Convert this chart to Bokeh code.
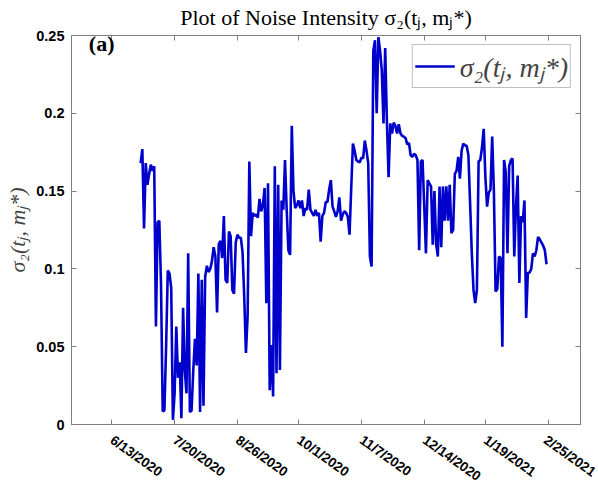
import pandas as pd
from bokeh.plotting import figure
from bokeh.models import Range1d, FixedTicker, LinearAxis, Label, CustomLabelingPolicy
from bokeh.embed import file_html
from bokeh.resources import INLINE

# ---- data (daily noise intensity) ----
start_date = "2020-06-30"
origin_date = "2020-06-13"
sigma2 = [
    0.168, 0.177, 0.126, 0.168, 0.154, 0.161, 0.167, 0.163, 0.166, 0.063,
    0.130, 0.131, 0.090, 0.0085, 0.009, 0.050, 0.099, 0.097, 0.088, 0.003,
    0.020, 0.063, 0.030, 0.040, 0.004, 0.075, 0.035, 0.020, 0.110, 0.008,
    0.009, 0.035, 0.055, 0.038, 0.097, 0.008, 0.093, 0.012, 0.095, 0.102,
    0.098, 0.100, 0.105, 0.114, 0.108, 0.072, 0.116, 0.118, 0.107, 0.134,
    0.093,
    0.091, 0.124, 0.121, 0.0865, 0.084, 0.117, 0.122, 0.120, 0.120, 0.111,
    0.082, 0.046, 0.070, 0.169, 0.121, 0.136, 0.134, 0.135, 0.133, 0.145,
    0.137, 0.141, 0.152, 0.078, 0.155, 0.022, 0.051, 0.018, 0.166, 0.033,
    0.154, 0.035, 0.144, 0.138, 0.170, 0.138, 0.112, 0.109, 0.192, 0.150,
    0.139, 0.141, 0.144, 0.139, 0.144, 0.134, 0.139, 0.138, 0.151, 0.138,
    0.136, 0.134, 0.138, 0.134, 0.136, 0.1175, 0.134, 0.136, 0.143,
    0.143, 0.151, 0.157, 0.140, 0.137, 0.1335, 0.137, 0.146, 0.131, 0.135,
    0.137, 0.136, 0.1335, 0.122, 0.152, 0.1805, 0.176, 0.170, 0.169, 0.1685,
    0.1715, 0.171, 0.1825, 0.176, 0.168, 0.108, 0.1015, 0.240, 0.247, 0.200,
    0.249, 0.240, 0.2275, 0.1935, 0.242, 0.195, 0.159, 0.1935, 0.187, 0.194,
    0.192, 0.187, 0.193, 0.187, 0.1855, 0.185, 0.184, 0.180, 0.181, 0.173,
    0.172, 0.174, 0.173, 0.170, 0.112, 0.169,
    0.170, 0.140, 0.110, 0.157, 0.155, 0.153, 0.1155, 0.150, 0.116, 0.108,
    0.153, 0.114, 0.153, 0.131, 0.153, 0.131, 0.154, 0.123, 0.125, 0.161,
    0.163, 0.172, 0.158, 0.176, 0.1805, 0.1795, 0.179, 0.173, 0.142, 0.110,
    0.0865, 0.078, 0.0865, 0.169, 0.170, 0.178, 0.190, 0.159, 0.140, 0.149,
    0.151, 0.185, 0.150, 0.0855, 0.087, 0.108, 0.107, 0.050, 0.170, 0.162,
    0.110, 0.166, 0.170, 0.171, 0.108, 0.140, 0.160, 0.091, 0.134, 0.130,
    0.144, 0.0685, 0.0975, 0.0975, 0.100, 0.110, 0.108, 0.112, 0.1205, 0.119,
    0.117, 0.115, 0.112, 0.103,
]
x_tick_labels = ["6/13/2020", "7/20/2020", "8/26/2020", "10/1/2020",
                 "11/7/2020", "12/14/2020", "1/19/2021", "2/25/2021"]
y_ticks = [0, 0.05, 0.1, 0.15, 0.2, 0.25]
y_tick_labels = ["0", "0.05", "0.1", "0.15", "0.2", "0.25"]
x_limits = ["2020-05-20 07:00", "2021-03-16 00:00"]
series_name = "σ₂(tⱼ, mⱼ*)"
title_text = "Plot of Noise Intensity σ₂(tⱼ, mⱼ*)"

# ---- derived positions (days from origin) ----
origin = pd.Timestamp(origin_date)
one_day = pd.Timedelta(days=1)
days = [float((d - origin) / one_day)
        for d in pd.date_range(start_date, periods=len(sigma2), freq="D")]
x_ticks = [float((pd.to_datetime(s, format="%m/%d/%Y") - origin) / one_day)
           for s in x_tick_labels]
x0 = float((pd.Timestamp(x_limits[0]) - origin) / one_day)
x1 = float((pd.Timestamp(x_limits[1]) - origin) / one_day)

GRAY = "#808080"
LINE = "#0000CD"

p = figure(width=598, height=492, output_backend="svg", toolbar_location=None,
           title=title_text, x_range=Range1d(x0, x1), y_range=Range1d(0, 0.25),
           min_border_left=71, min_border_right=18, min_border_top=35,
           min_border_bottom=67, background_fill_color="white",
           border_fill_color="white")
p.title.align = "center"
p.title.text_font = "Liberation Serif"
p.title.text_font_style = "normal"
p.title.text_font_size = "22px"
p.title.text_color = "black"
p.title.standoff = 3

p.xgrid.visible = False
p.ygrid.visible = False
p.outline_line_color = GRAY
p.outline_line_width = 1

xax = p.xaxis[0]
xax.ticker = FixedTicker(ticks=x_ticks)
xax.major_label_overrides = {t: l for t, l in zip(x_ticks, x_tick_labels)}
xax.major_label_orientation = -0.62
xax.major_label_standoff = 14
xax.major_label_text_font_size = "13.5px"

yax = p.yaxis[0]
yax.ticker = FixedTicker(ticks=y_ticks)
yax.major_label_overrides = {t: l for t, l in zip(y_ticks, y_tick_labels)}
yax.major_label_standoff = 7
yax.major_label_text_font_size = "14.5px"
yax.axis_label = series_name
yax.axis_label_text_font = "Liberation Serif"
yax.axis_label_text_font_style = "italic"
yax.axis_label_text_font_size = "22px"
yax.axis_label_standoff = 3

for ax in (xax, yax):
    ax.major_label_text_font = "Liberation Sans"
    ax.major_label_text_font_style = "bold"
    ax.major_label_text_color = "black"
    ax.axis_line_color = GRAY
    ax.major_tick_line_color = GRAY
    ax.major_tick_in = 5
    ax.major_tick_out = 0
    ax.minor_tick_line_color = None

hide_labels = CustomLabelingPolicy(code="""
    for (const i of Array.from(indices)) indices.unset(i)
    return indices
""")
top = LinearAxis(ticker=FixedTicker(ticks=x_ticks))
right = LinearAxis(ticker=FixedTicker(ticks=y_ticks))
for ax in (top, right):
    ax.major_label_policy = hide_labels
    ax.major_label_text_font_size = "1px"
    ax.major_label_standoff = 0
    ax.axis_line_color = GRAY
    ax.major_tick_line_color = GRAY
    ax.major_tick_in = 5
    ax.major_tick_out = 0
    ax.minor_tick_line_color = None
p.add_layout(top, "above")
p.add_layout(right, "right")

p.line(days, sigma2, line_color=LINE, line_width=2.6, legend_label=series_name)

lg = p.legend[0]
lg.location = "top_right"
lg.margin = 9
lg.padding = 2
lg.spacing = 0
lg.glyph_width = 40
lg.glyph_height = 28
lg.label_height = 28
lg.label_standoff = 5
lg.label_text_font = "Liberation Serif"
lg.label_text_font_style = "italic"
lg.label_text_font_size = "28px"
lg.label_text_baseline = "middle"
lg.border_line_color = GRAY
lg.border_line_width = 1
lg.background_fill_alpha = 1.0

p.add_layout(Label(x=-13.5, y=0.25, y_offset=5, text="(a)",
                   text_align="left", text_baseline="top",
                   text_font="Liberation Serif", text_font_style="bold",
                   text_font_size="22px", text_color="black"))

open("out.html", "w").write(file_html(p, INLINE))
